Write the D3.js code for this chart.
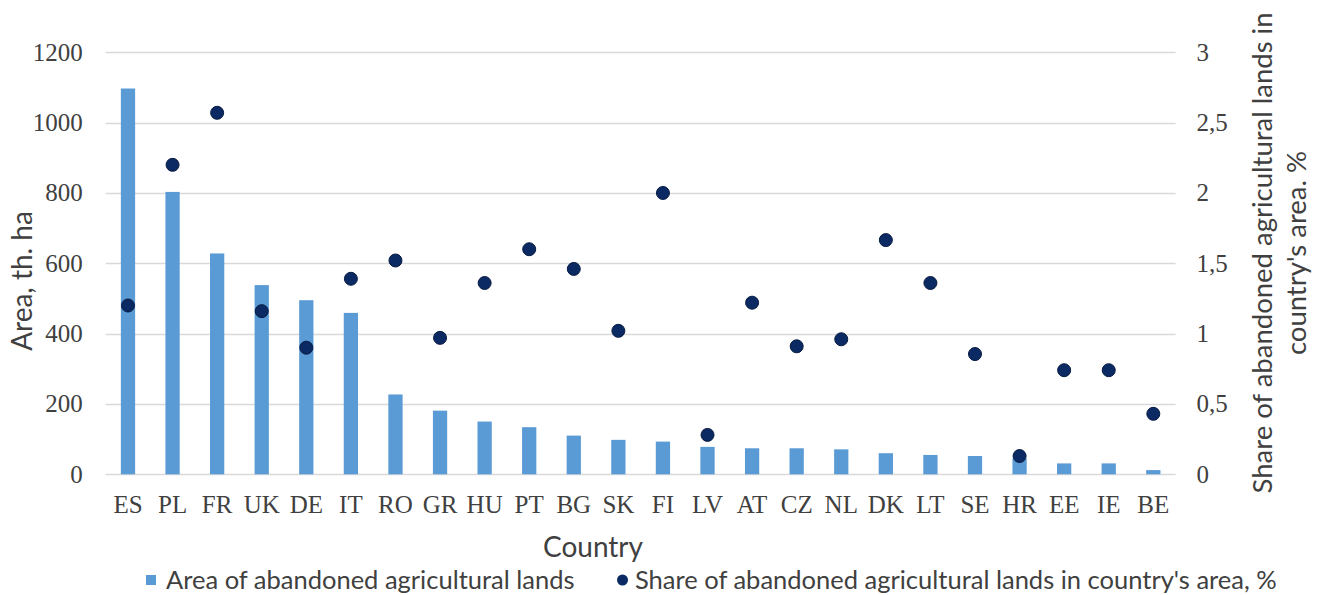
<!DOCTYPE html>
<html>
<head>
<meta charset="utf-8">
<script src="https://cdn.jsdelivr.net/npm/d3@7"></script>
<style>
  html, body { margin: 0; padding: 0; background: #fff; }
  svg { display: block; }
</style>
</head>
<body>
<svg id="chart" width="1322" height="595"></svg>
<script>
const countries = ["ES","PL","FR","UK","DE","IT","RO","GR","HU","PT","BG","SK","FI","LV","AT","CZ","NL","DK","LT","SE","HR","EE","IE","BE"];
const areaValues = [1097, 803, 628, 538, 495, 459, 227, 181, 150, 134, 110, 98, 93, 78, 74, 74, 71, 60, 55, 52, 45, 31, 31, 12];
const shareValues = [1.20, 2.20, 2.57, 1.16, 0.90, 1.39, 1.52, 0.97, 1.36, 1.60, 1.46, 1.02, 2.00, 0.28, 1.22, 0.91, 0.96, 1.665, 1.36, 0.855, 0.13, 0.74, 0.74, 0.43];
const leftTicks = [0, 200, 400, 600, 800, 1000, 1200];
const rightTicks = [0, 0.5, 1, 1.5, 2, 2.5, 3];
const rightTickLabels = ["0", "0,5", "1", "1,5", "2", "2,5", "3"];
const seriesNames = ["Area of abandoned agricultural lands", "Share of abandoned agricultural lands in country's area, %"];

const svg = d3.select("#chart");
const plot = { left: 105.7, right: 1175.6, top: 52.3, bottom: 474.3 };

const x = d3.scaleBand().domain(countries).range([plot.left, plot.right]).paddingInner(0.68).paddingOuter(0.34);
const yL = d3.scaleLinear().domain([0, 1200]).range([plot.bottom, plot.top]);
const yR = d3.scaleLinear().domain([0, 3]).range([plot.bottom, plot.top]);

const barColor = "#5B9BD5";
const dotColor = "#0B2A63";
const textColor = "#404040";
const serif = "'Liberation Serif', 'Times New Roman', serif";
const sans = "Lato, 'Open Sans', sans-serif";

// gridlines
svg.append("g").selectAll("line").data(leftTicks).join("line")
  .attr("x1", plot.left).attr("x2", plot.right)
  .attr("y1", d => Math.round(yL(d)) + 0.5).attr("y2", d => Math.round(yL(d)) + 0.5)
  .attr("stroke", "#D9D9D9").attr("stroke-width", 1.3);

// left axis labels
const gL = svg.append("g").attr("transform", `translate(${plot.left},0)`)
  .call(d3.axisLeft(yL).tickValues(leftTicks).tickSize(0).tickPadding(23).tickFormat(d3.format("d")));
gL.select(".domain").remove();
gL.selectAll("text").attr("font-family", serif).attr("font-size", 25).attr("fill", textColor);

// right axis labels
const gR = svg.append("g").attr("transform", `translate(${plot.right},0)`)
  .call(d3.axisRight(yR).tickValues(rightTicks).tickSize(0).tickPadding(21).tickFormat((d, i) => rightTickLabels[i]));
gR.select(".domain").remove();
gR.selectAll("text").attr("font-family", serif).attr("font-size", 25).attr("fill", textColor);

// x axis labels
const gX = svg.append("g").attr("transform", `translate(0,${plot.bottom})`)
  .call(d3.axisBottom(x).tickSize(0).tickPadding(21));
gX.select(".domain").remove();
gX.selectAll("text").attr("font-family", serif).attr("font-size", 25).attr("fill", textColor);

// bars
svg.append("g").selectAll("rect").data(countries).join("rect")
  .attr("x", d => x(d))
  .attr("width", x.bandwidth())
  .attr("y", (d, i) => yL(areaValues[i]))
  .attr("height", (d, i) => yL(0) - yL(areaValues[i]))
  .attr("fill", barColor);

// dots
svg.append("g").selectAll("circle").data(countries).join("circle")
  .attr("cx", d => x(d) + x.bandwidth() / 2)
  .attr("cy", (d, i) => yR(shareValues[i]))
  .attr("r", 6.5)
  .attr("fill", dotColor)
  .attr("stroke", "#071a40").attr("stroke-width", 1);

// axis titles
svg.append("text").attr("x", 593).attr("y", 557).attr("text-anchor", "middle")
  .attr("font-family", sans).attr("font-size", 28).attr("fill", textColor).text("Country");

svg.append("text").attr("transform", "translate(32,281) rotate(-90)").attr("text-anchor", "middle")
  .attr("font-family", sans).attr("font-size", 28).attr("fill", textColor).text("Area, th. ha");

const rt = svg.append("text").attr("transform", "translate(1272,253) rotate(-90)").attr("text-anchor", "middle")
  .attr("font-family", sans).attr("font-size", 27.5).attr("fill", textColor);
rt.append("tspan").attr("x", 0).attr("dy", 0).text("Share of abandoned agricultural lands in");
rt.append("tspan").attr("x", 0).attr("dy", 34).text("country's area. %");

// legend
const leg = svg.append("g");
leg.append("rect").attr("x", 146).attr("y", 575).attr("width", 10).attr("height", 10).attr("fill", barColor);
leg.append("text").attr("x", 166).attr("y", 589).attr("font-family", sans).attr("font-size", 25.5)
  .attr("fill", textColor).text(seriesNames[0]);
leg.append("circle").attr("cx", 622.5).attr("cy", 580).attr("r", 5.5).attr("fill", dotColor);
leg.append("text").attr("x", 635).attr("y", 589).attr("font-family", sans).attr("font-size", 25.5)
  .attr("fill", textColor).text(seriesNames[1]);
</script>
</body>
</html>
